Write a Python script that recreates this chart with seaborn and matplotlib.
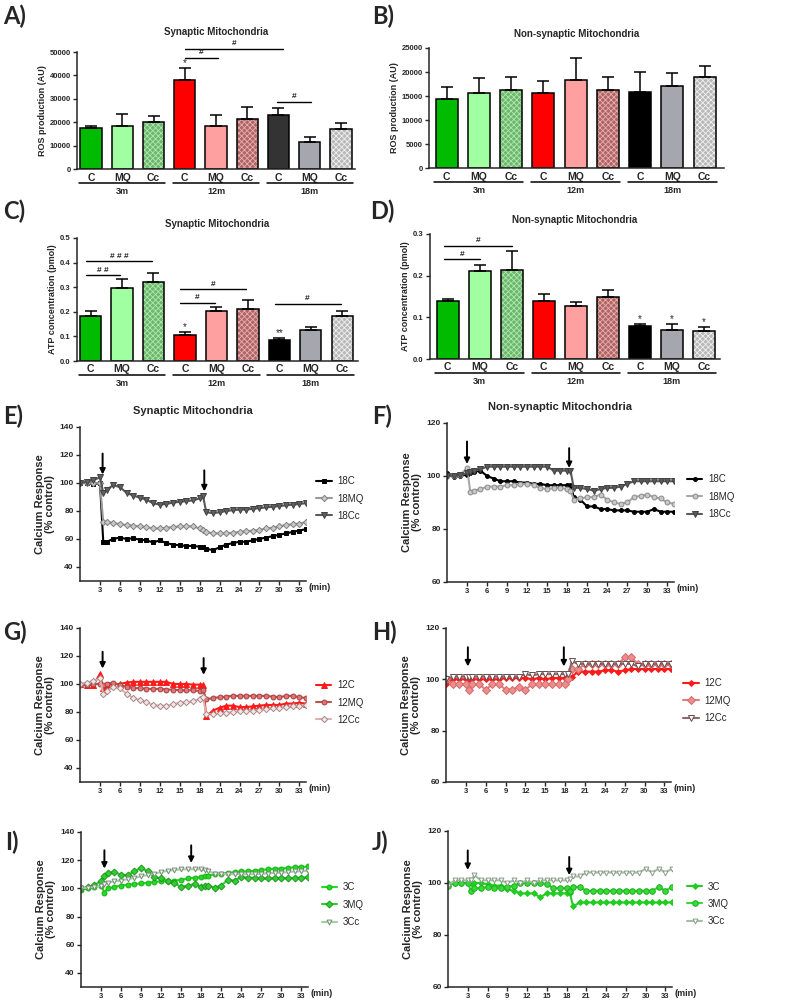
import numpy as np
import pandas as pd
import matplotlib
matplotlib.use("Agg")
import matplotlib.pyplot as plt
import matplotlib.transforms as mtransforms
import seaborn as sns

# ---------------- Datos de las barras ----------------
grupos = ["3m", "12m", "18m"]
tratamientos = ["C", "MQ", "Cc"]

ros_sinap = [17400, 18600, 20300, 37900, 18600, 21300, 23000, 11700, 17000]
ros_sinap_err = [1000, 4800, 2400, 5200, 4500, 5100, 2900, 2000, 2700]
ros_nosinap = [14400, 15600, 16250, 15700, 18400, 16250, 15900, 17000, 19000]
ros_nosinap_err = [2500, 3150, 2650, 2500, 4500, 2750, 4000, 2700, 2300]
atp_sinap = [0.182, 0.295, 0.322, 0.107, 0.202, 0.210, 0.087, 0.125, 0.184]
atp_sinap_err = [0.021, 0.040, 0.036, 0.012, 0.016, 0.038, 0.006, 0.012, 0.021]
atp_nosinap = [0.138, 0.211, 0.213, 0.140, 0.128, 0.148, 0.080, 0.069, 0.068]
atp_nosinap_err = [0.006, 0.015, 0.045, 0.016, 0.008, 0.018, 0.004, 0.016, 0.008]

# significancias: (desde, hasta, altura, texto)
sig_A = [(3.0, 4.05, 47400, "#"), (3.0, 6.15, 51400, "#"), (5.95, 7.05, 28600, "#")]
sig_C = [(-0.15, 0.95, 0.348, "# #"), (-0.15, 1.95, 0.405, "# # #"),
         (2.85, 3.95, 0.236, "#"), (2.85, 4.95, 0.291, "#"), (5.85, 7.95, 0.233, "#")]
sig_D = [(-0.1, 1.0, 0.239, "#"), (-0.1, 2.0, 0.271, "#")]
estrellas_A = [(3, "*")]
estrellas_C = [(3, "*"), (6, "**")]
estrellas_D = [(6, "*"), (7, "*"), (8, "*")]

# ---------------- Datos de calcio ----------------
tiempo = [0, 1, 2, 3, 3.5] + list(range(4, 19)) + [18.5] + list(range(19, 35))

# E) sinapticas 18m
e_18C = [100, 100, 99, 100, 58, 58, 60, 61, 60, 60.5, 59.5, 59, 57.5, 59, 57, 56, 55.5, 55, 55, 54.5, 54,
         53, 52, 54, 56, 57, 58, 58, 59, 60, 61, 62, 63, 64, 65, 66, 67]
e_18MQ = [100, 100, 100, 100, 72, 72, 71.5, 70.5, 70, 69.5, 69, 68.5, 67.5, 67.5, 68, 68.5, 69, 69, 69, 67.5, 66.5,
          65, 64, 64, 64, 64.5, 65, 65.5, 66, 66.5, 67.5, 68, 69, 70, 70.5, 71, 72]
e_18Cc = [100, 101, 102, 104, 93, 95, 98.5, 97, 93, 91, 89.5, 88, 85.5, 84.5, 85, 86, 86.5, 87, 87.5, 89, 91,
          79, 78.5, 79, 80, 80.5, 81, 81, 81.5, 82, 82.5, 83, 83.5, 84, 84.5, 85, 85.5]
# F) no sinapticas 18m
f_18C = [101, 99.5, 100, 100.5, 101, 101.5, 102, 100, 99, 98, 98, 98, 97.5, 97.5, 97, 97, 96.5, 96.5, 96.5, 96.5, 96.5,
         92, 91, 88.5, 88.5, 87.5, 87.5, 87, 87, 87, 86.5, 86.5, 86.5, 87.5, 86.5, 86.5, 86.5]
f_18MQ = [100, 100, 100.5, 103, 94, 94.5, 95, 96, 96, 96, 96.5, 96.5, 97, 97, 96.5, 95.5, 95, 95.5, 95.5, 95, 94.5,
          91, 91.5, 92, 92, 93, 91, 90, 89.5, 90, 92, 92.5, 93, 92, 91.5, 90, 89.5]
f_18Cc = [100, 100, 100.5, 101, 101.5, 102, 102.5, 103.5, 103.5, 103.5, 103.5, 103.5, 103.5, 103.5, 103.5, 103.5,
          103.5, 102, 102, 102, 102,
          95.5, 95.5, 95, 94.5, 95, 95.5, 95.5, 96, 97, 98, 98, 98, 98, 98, 98, 98]
# G) sinapticas 12m
g_12C = [100, 99, 99.5, 107, 97, 99, 100, 100, 101, 101.5, 101.5, 101.5, 101.5, 101.5, 101.5, 100, 100, 100, 99.5, 99.5,
         99.5, 77, 81, 83, 84.5, 84.5, 83.5, 83.5, 84, 84.5, 85, 85, 85, 86, 86, 86.5, 86]
g_12MQ = [99, 99.5, 100, 100, 99, 100, 101, 99, 98, 97, 97, 96.5, 96.5, 96.5, 96, 96, 95.5, 95.5, 95.5, 95, 96,
          89, 90, 90.5, 91, 91.5, 91.5, 91.5, 91.5, 91.5, 91.5, 91, 90.5, 91.5, 91.5, 90.5, 90]
g_12Cc = [100, 101, 102, 104, 93, 95, 97.5, 97, 93, 90, 88.5, 87, 85, 84.5, 84.5, 85.5, 86.5, 87, 87.5, 89.5, 90.5,
          78.5, 78.5, 79, 79.5, 80, 80.5, 81, 81, 81.5, 82, 82.5, 83, 83.5, 84, 84.5, 85]
# H) no sinapticas 12m
h_12C = [98, 100, 100, 100, 100, 100, 100, 100, 100, 100, 100.5, 100.5, 100.5, 100.5, 100, 100.5, 100, 100.5, 100.5,
         100.5, 100.5, 101, 103, 103, 103, 103, 103.5, 103.5, 103, 103.5, 104, 104, 104, 104, 104, 104, 104]
h_12MQ = [100, 98, 98, 98, 96, 98, 98, 96, 98, 98, 96, 96, 97, 96, 98, 98, 98, 98, 98, 98, 100,
          104, 104, 106, 106, 106, 106, 106, 106, 108.5, 108.5, 106, 106, 106, 106, 106, 106]
h_12Cc = [100, 101, 101, 101, 101, 101, 101, 101, 101, 101, 101, 101, 101, 102, 101.5, 102, 102, 102, 102, 102, 102,
          107, 106, 106, 106, 106, 106, 106, 106, 106, 106, 105, 106, 106, 106, 106, 106]
# I) sinapticas 3m
i_3C = [99, 100, 101, 102, 97, 100, 101, 102, 102.5, 103, 103.5, 104, 104.5, 105, 105, 105.5, 106, 107, 107.5, 108,
        108.5, 109, 110, 110.5, 111, 111.5, 112, 112, 112.5, 113, 113.5, 114, 114, 114.5, 115, 115, 115.5]
i_3MQ = [100, 101, 102.5, 105, 109, 111, 111.5, 109.5, 109.5, 112, 114.5, 112, 108, 107, 105.5, 103.5, 101, 102, 103,
         101, 102, 102, 100.5, 102, 106, 105.5, 108, 107.5, 107.5, 107, 107, 107, 107.5, 107, 107.5, 107.5, 108]
i_3Cc = [100, 100.5, 101, 102, 103, 104, 105, 105.5, 106.5, 107.5, 108.5, 109.5, 110.5, 111.5, 112.5, 113, 113.5,
         113.5, 113.5, 113.5, 113, 112.5, 110.5, 110.5, 110, 110, 110, 110, 110, 110.5, 110.5, 111, 111, 111.5, 112,
         112, 112.5]
# J) no sinapticas 3m
j_3C = [100, 100, 100, 100, 100, 100, 100, 99.5, 99, 99, 97.5, 97, 96, 96, 96, 94.5, 96, 96, 96, 96, 96,
        91, 92.5, 92.5, 92.5, 92.5, 92.5, 92.5, 92.5, 92.5, 92.5, 92.5, 92.5, 92.5, 92.5, 92.5, 92.5]
j_3MQ = [99, 100, 100, 100, 97, 98, 98, 98.5, 98, 98, 98.5, 99, 100, 100, 100, 100, 99.5, 98, 98, 98, 97,
         98.5, 98.5, 97, 97, 97, 97, 97, 97, 97, 97, 97, 97, 97, 98.5, 97, 98.5]
j_3Cc = [99, 101, 101, 101, 101, 103, 101, 101, 101, 101, 100, 101, 100, 101, 100, 101, 101, 101, 101, 101, 101.5,
         102.5, 102.5, 104, 104, 104, 104, 104, 104, 104, 104, 104, 105.5, 104, 105.5, 104, 105.5]

# momentos de las adiciones (flechas): (t, y_inicio, y_punta)
flechas_E = [(3.4, 121, 106), (18.7, 109, 94)]
flechas_F = [(3.0, 113, 104.5), (18.3, 110.5, 103)]
flechas_G = [(3.4, 123, 111), (18.6, 118.5, 106.5)]
flechas_H = [(3.3, 112.5, 105), (17.8, 112.5, 105)]
flechas_I = [(3.5, 127, 114), (16.5, 130.5, 118)]
flechas_J = [(3.0, 112.5, 105), (18.4, 110, 103)]

# ---------------- Estilo ----------------
sns.set_style("ticks")
plt.rcParams["font.family"] = ["Liberation Sans", "DejaVu Sans"]
plt.rcParams["font.weight"] = "bold"
plt.rcParams["hatch.linewidth"] = 0.6
plt.rcParams["axes.linewidth"] = 1.1

fig = plt.figure(figsize=(7.89, 10.02), dpi=100)


def panel_barras(ax, valores, errores, colores, tramas, ylim, yticks, xlim, ylabel, titulo, pad_titulo, sig, estrellas):
    ids = [f"{g}_{t}" for g in grupos for t in tratamientos]
    df = pd.DataFrame({"id": ids, "valor": valores})
    sns.barplot(data=df, x="id", y="valor", hue="id", palette=colores, legend=False, width=0.68,
                saturation=1, edgecolor="black", linewidth=1.1, errorbar=None, ax=ax)
    barras = list(ax.patches)
    centros = [b.get_x() + b.get_width() / 2 for b in barras]
    # tramas cuadriculadas de los grupos Cc
    for b, trama in zip(barras, tramas):
        if trama:
            b.set_hatch("xxxxxx")
            b.set_edgecolor(trama)
            b.set_linewidth(0)
            ax.add_patch(plt.Rectangle(b.get_xy(), b.get_width(), b.get_height(), fill=False,
                                       edgecolor="black", linewidth=1.1, zorder=b.get_zorder()))
    ax.errorbar(centros, valores, yerr=[np.zeros(len(valores)), errores], fmt="none", ecolor="black",
                elinewidth=1.1, capsize=4, capthick=1.1)

    ax.set_ylim(*ylim)
    ax.set_yticks(yticks)
    ax.set_xlim(*xlim)
    ax.set_xticks(range(len(ids)))
    ax.set_xticklabels(tratamientos * 3)
    ax.tick_params(axis="x", length=0, labelsize=7.5, pad=2.5)
    ax.tick_params(axis="y", length=3, width=1, labelsize=5.5, pad=1.5)
    ax.set_xlabel("")
    ax.set_ylabel(ylabel, fontsize=6.5, fontweight="bold", labelpad=2)
    ax.set_title(titulo, fontsize=7, fontweight="bold", pad=pad_titulo)
    sns.despine(ax=ax)

    # lineas de grupo de edad
    trans = ax.get_xaxis_transform() + mtransforms.ScaledTranslation(0, -10.4 / 72, fig.dpi_scale_trans)
    for k, g in enumerate(grupos):
        ax.plot([3 * k - 0.38, 3 * k + 2.38], [0, 0], color="black", lw=1.1, transform=trans, clip_on=False)
        ax.annotate(g, xy=(3 * k + 1, 0), xycoords=ax.get_xaxis_transform(), xytext=(0, -16.2),
                    textcoords="offset points", ha="center", va="center", fontsize=6.5, fontweight="bold")

    for x1, x2, y, txt in sig:
        ax.plot([x1, x2], [y, y], color="black", lw=1, clip_on=False)
        ax.annotate(txt, xy=((x1 + x2) / 2, y), xytext=(0, 1.2), textcoords="offset points", ha="center",
                    va="bottom", fontsize=6, fontweight="bold", annotation_clip=False)
    for i, txt in estrellas:
        ax.annotate(txt, xy=(centros[i], valores[i] + errores[i]), xytext=(0, 0), textcoords="offset points",
                    ha="center", va="bottom", fontsize=7, fontweight="normal", annotation_clip=False)


def panel_calcio(ax, series, etiquetas, estilos, ylim, yticks, flechas, ley_pos, titulo=None, pad_titulo=9):
    for valores, etiqueta, estilo in zip(series, etiquetas, estilos):
        sns.lineplot(x=tiempo, y=valores, ax=ax, label=etiqueta, errorbar=None, linewidth=1.5,
                     markeredgewidth=0.7, **estilo)
    for t, y0, y1 in flechas:
        ax.annotate("", xy=(t, y1), xytext=(t, y0),
                    arrowprops=dict(arrowstyle="-|>", color="black", lw=1.4, mutation_scale=8,
                                    shrinkA=0, shrinkB=0))
    ax.set_xlim(0, 34)
    ax.set_ylim(*ylim)
    ax.set_yticks(yticks)
    ax.set_xticks(range(3, 34, 3))
    ax.tick_params(axis="x", length=3, width=1, labelsize=5.5, pad=1.5)
    ax.tick_params(axis="y", length=3, width=1, labelsize=6, pad=1.5)
    ax.set_xlabel("")
    ax.set_ylabel("Calcium Response\n(% control)", fontsize=8, fontweight="bold", linespacing=1.1, labelpad=3)
    ax.annotate("(min)", xy=(1, 0), xycoords="axes fraction", xytext=(1.5, -5), textcoords="offset points",
                ha="left", va="center", fontsize=6.5, fontweight="bold")
    if titulo:
        ax.set_title(titulo, fontsize=8, fontweight="bold", pad=pad_titulo)
    ax.legend(loc="upper left", bbox_to_anchor=ley_pos, frameon=False, prop={"size": 7, "weight": "normal"},
              handlelength=1.6, handletextpad=0.6, labelspacing=0.75, borderaxespad=0, borderpad=0)
    sns.despine(ax=ax)


def est(color, marker, size, cara=None, borde=None):
    return dict(color=color, marker=marker, markersize=size,
                markerfacecolor=cara if cara else color, markeredgecolor=borde if borde else color)


# ---------------- Paneles de barras ----------------
col_sinap = ["#00bb00", "#a0ffa0", "#6ab86a", "#ff0000", "#ffa0a0", "#b06464", "#333333", "#a6a6ae", "#b8b8b8"]
col_nosinap = ["#00bb00", "#a0ffa0", "#6ab86a", "#ff0000", "#ffa0a0", "#b06464", "#000000", "#a6a6ae", "#b8b8b8"]
tramas = [None, None, "#b4e4b4", None, None, "#e6b0b0", None, None, "#f0f0f0"]

axA = fig.add_axes([0.0976, 0.8313, 0.3523, 0.1168])
panel_barras(axA, ros_sinap, ros_sinap_err, col_sinap, tramas, (0, 50000), range(0, 50001, 10000),
             (-0.45, 8.45), "ROS production (AU)", "Synaptic Mitochondria", 12, sig_A, estrellas_A)

axB = fig.add_axes([0.5437, 0.8323, 0.3739, 0.1198])
panel_barras(axB, ros_nosinap, ros_nosinap_err, col_nosinap, tramas, (0, 25000), range(0, 25001, 5000),
             (-0.55, 8.6), "ROS production (AU)", "Non-synaptic Mitochondria", 8, [], [])

axC = fig.add_axes([0.0976, 0.6397, 0.3561, 0.1228])
panel_barras(axC, atp_sinap, atp_sinap_err, col_nosinap, tramas, (0, 0.5), np.arange(0, 0.51, 0.1),
             (-0.43, 8.5), "ATP concentration (pmol)", "Synaptic Mitochondria", 8, sig_C, estrellas_C)

axD = fig.add_axes([0.5450, 0.6417, 0.3676, 0.1248])
panel_barras(axD, atp_nosinap, atp_nosinap_err, col_nosinap, tramas, (0, 0.3), np.arange(0, 0.31, 0.1),
             (-0.55, 8.5), "ATP concentration (pmol)", "Non-synaptic Mitochondria", 8, sig_D, estrellas_D)

# ---------------- Paneles de calcio ----------------
axE = fig.add_axes([0.1014, 0.4202, 0.2864, 0.1537])
panel_calcio(axE, [e_18C, e_18MQ, e_18Cc], ["18C", "18MQ", "18Cc"],
             [est("black", "s", 3.5), est("#9a9a9a", "D", 3.2, "#c8c8c8", "#808080"),
              est("#5a5a5a", "v", 4, "#606060", "#404040")],
             (30, 140), range(40, 141, 20), flechas_E, (1.045, 0.68), "Synaptic Mitochondria", 9.5)

axF = fig.add_axes([0.5665, 0.4192, 0.2877, 0.1587])
panel_calcio(axF, [f_18C, f_18MQ, f_18Cc], ["18C", "18MQ", "18Cc"],
             [est("black", "o", 2.8), est("#a8a8a8", "o", 3.5, "#c8c8c8", "#8a8a8a"),
              est("#5a5a5a", "v", 4, "#5a5a5a", "#404040")],
             (60, 120), range(60, 121, 20), flechas_F, (1.057, 0.676), "Non-synaptic Mitochondria", 9)

axG = fig.add_axes([0.1014, 0.2196, 0.2864, 0.1537])
panel_calcio(axG, [g_12C, g_12MQ, g_12Cc], ["12C", "12MQ", "12Cc"],
             [est("#ff1a1a", "^", 4), est("#c05050", "o", 3.5, "#e57373", "#a04040"),
              est("#e0b0b0", "D", 3.2, "#f5e6e6", "#a88888")],
             (30, 140), range(40, 141, 20), flechas_G, (1.044, 0.66))

axH = fig.add_axes([0.5653, 0.2196, 0.2852, 0.1537])
panel_calcio(axH, [h_12C, h_12MQ, h_12Cc], ["12C", "12MQ", "12Cc"],
             [est("#ff1a1a", "D", 3), est("#e08080", "D", 4, "#f08c8c", "#d06c6c"),
              est("#8a6a6a", "v", 4, "white", "#6a4a4a")],
             (60, 120), range(60, 121, 20), flechas_H, (1.053, 0.672))

axI = fig.add_axes([0.1027, 0.0150, 0.2877, 0.1547])
panel_calcio(axI, [i_3C, i_3MQ, i_3Cc], ["3C", "3MQ", "3Cc"],
             [est("#22dd22", "o", 3.5, "#22dd22", "#18b018"), est("#33cc33", "D", 3.5, "#33cc33", "#1a9a1a"),
              est("#a0d0a0", "v", 3.5, "#eef8ee", "#7a8a7a")],
             (30, 140), range(40, 141, 20), flechas_I, (1.06, 0.674))

axJ = fig.add_axes([0.5678, 0.0150, 0.2839, 0.1557])
panel_calcio(axJ, [j_3C, j_3MQ, j_3Cc], ["3C", "3MQ", "3Cc"],
             [est("#22cc22", "D", 3), est("#33dd33", "o", 4, "#33dd33", "#22aa22"),
              est("#a0c0a0", "v", 3.5, "white", "#8a9a8a")],
             (60, 120), range(60, 121, 20), flechas_J, (1.066, 0.676))

# ---------------- Letras de panel ----------------
letras = [("A)", 3, 16), ("B)", 372, 16), ("C)", 3, 211), ("D)", 370, 211), ("E)", 3, 416),
          ("F)", 372, 416), ("G)", 3, 632), ("H)", 372, 632), ("I)", 5, 842), ("J)", 372, 842)]
for txt, px, py in letras:
    fig.text(px / 789, 1 - py / 1002, txt, ha="left", va="center", fontsize=17, fontweight="bold",
             family=["Lato", "DejaVu Sans"])

fig.savefig("out.png", dpi=100)
